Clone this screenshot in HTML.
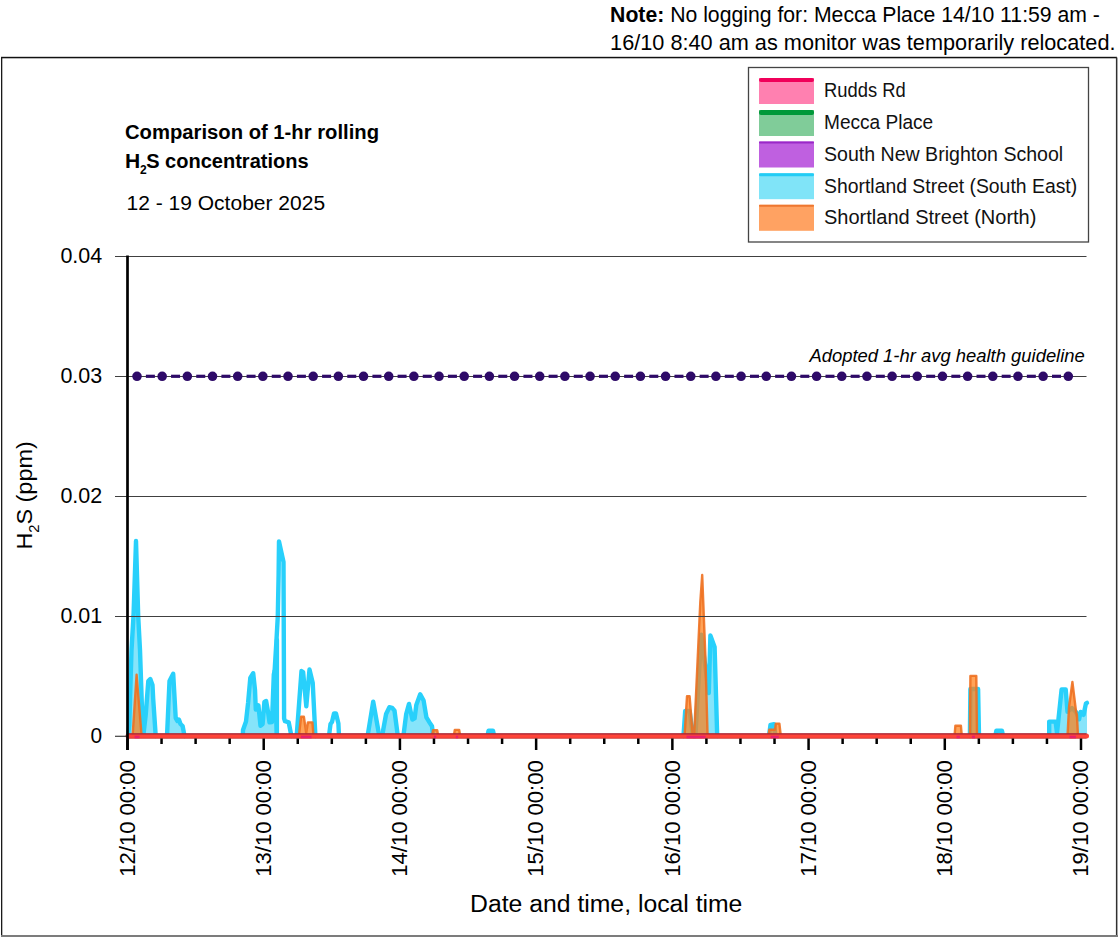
<!DOCTYPE html><html><head><meta charset="utf-8"><style>html,body{margin:0;padding:0;background:#fff;overflow:hidden}svg{display:block}</style></head><body><svg width="1118" height="937" viewBox="0 0 1118 937">
<rect x="0" y="0" width="1118" height="937" fill="#fff"/>
<rect x="1" y="56.8" width="1116" height="1.5" fill="#111"/>
<rect x="1" y="57" width="1.3" height="879" fill="#1a1a1a"/>
<rect x="1115.9" y="57" width="1.3" height="879" fill="#303030"/>
<rect x="1117" y="58" width="1" height="879" fill="#a8a8a8"/>
<rect x="1" y="935" width="1117" height="2" fill="#7c7c7c"/>
<text x="610.1" y="21.9" font-family="Liberation Sans, sans-serif" font-size="21.8" textLength="489.8" lengthAdjust="spacingAndGlyphs"><tspan font-weight="bold">Note:</tspan> No logging for: Mecca Place 14/10 11:59 am -</text>
<text x="610.1" y="50" font-family="Liberation Sans, sans-serif" font-size="21.8" textLength="505.4" lengthAdjust="spacingAndGlyphs">16/10 8:40 am as monitor was temporarily relocated.</text>
<rect x="748.5" y="67.5" width="340" height="174.5" fill="#fff" stroke="#444" stroke-width="1.3"/>
<rect x="759" y="78" width="55" height="26" fill="#ff80b0"/>
<rect x="759" y="78" width="55" height="4" rx="2.0" fill="#f0005a"/>
<text x="824" y="97" font-family="Liberation Sans, sans-serif" font-size="19.3" textLength="81.7" lengthAdjust="spacingAndGlyphs" fill="#111">Rudds Rd</text>
<rect x="759" y="110" width="55" height="26" fill="#80cc99"/>
<rect x="759" y="110" width="55" height="5" rx="2" fill="#00993a"/>
<text x="824" y="129" font-family="Liberation Sans, sans-serif" font-size="19.3" textLength="109.2" lengthAdjust="spacingAndGlyphs" fill="#111">Mecca Place</text>
<rect x="759" y="141.5" width="55" height="26" fill="#bf60e0"/>
<rect x="759" y="141.5" width="55" height="2" rx="1.0" fill="#9a28c8"/>
<text x="824" y="160.7" font-family="Liberation Sans, sans-serif" font-size="19.3" textLength="239.2" lengthAdjust="spacingAndGlyphs" fill="#111">South New Brighton School</text>
<rect x="759" y="173.2" width="55" height="26" fill="#80e4f8"/>
<rect x="759" y="173.2" width="55" height="3" rx="1.5" fill="#22ccf5"/>
<text x="824" y="192.7" font-family="Liberation Sans, sans-serif" font-size="19.3" textLength="253.2" lengthAdjust="spacingAndGlyphs" fill="#111">Shortland Street (South East)</text>
<rect x="759" y="204.8" width="55" height="26" fill="#ffa262"/>
<rect x="759" y="204.8" width="55" height="2" rx="1.0" fill="#ee7730"/>
<text x="824" y="224" font-family="Liberation Sans, sans-serif" font-size="19.3" textLength="212.4" lengthAdjust="spacingAndGlyphs" fill="#111">Shortland Street (North)</text>
<text x="125" y="139.3" font-family="Liberation Sans, sans-serif" font-size="21.05" font-weight="bold" textLength="254" lengthAdjust="spacingAndGlyphs">Comparison of 1-hr rolling</text>
<text x="125.1" y="167.7" font-family="Liberation Sans, sans-serif" font-size="21.05" font-weight="bold">H</text>
<text x="140" y="173.5" font-family="Liberation Sans, sans-serif" font-size="12" font-weight="bold">2</text>
<text x="146.2" y="167.7" font-family="Liberation Sans, sans-serif" font-size="21.05" font-weight="bold" textLength="162.4" lengthAdjust="spacingAndGlyphs">S concentrations</text>
<text x="126.5" y="210" font-family="Liberation Sans, sans-serif" font-size="20.9" textLength="198.6" lengthAdjust="spacingAndGlyphs">12 - 19 October 2025</text>
<text x="102.2" y="263.3" font-family="Liberation Sans, sans-serif" font-size="22.8" text-anchor="end" textLength="41.8" lengthAdjust="spacingAndGlyphs">0.04</text>
<text x="102.2" y="383.3" font-family="Liberation Sans, sans-serif" font-size="22.8" text-anchor="end" textLength="41.8" lengthAdjust="spacingAndGlyphs">0.03</text>
<text x="102.2" y="503.3" font-family="Liberation Sans, sans-serif" font-size="22.8" text-anchor="end" textLength="41.8" lengthAdjust="spacingAndGlyphs">0.02</text>
<text x="102.2" y="623.3" font-family="Liberation Sans, sans-serif" font-size="22.8" text-anchor="end" textLength="41.8" lengthAdjust="spacingAndGlyphs">0.01</text>
<text x="102.2" y="743.3" font-family="Liberation Sans, sans-serif" font-size="22.8" text-anchor="end" textLength="11.6" lengthAdjust="spacingAndGlyphs">0</text>
<line x1="115" y1="376.5" x2="1086.5" y2="376.5" stroke="#404040" stroke-width="1.2"/>
<text x="809.4" y="362" font-family="Liberation Sans, sans-serif" font-size="18" font-style="italic" textLength="275.4" lengthAdjust="spacingAndGlyphs">Adopted 1-hr avg health guideline</text>
<rect x="145.89" y="374.7" width="9" height="3.2" fill="#2e0a68"/>
<rect x="171.06" y="374.7" width="9" height="3.2" fill="#2e0a68"/>
<rect x="196.23" y="374.7" width="9" height="3.2" fill="#2e0a68"/>
<rect x="221.40" y="374.7" width="9" height="3.2" fill="#2e0a68"/>
<rect x="246.57" y="374.7" width="9" height="3.2" fill="#2e0a68"/>
<rect x="271.74" y="374.7" width="9" height="3.2" fill="#2e0a68"/>
<rect x="296.91" y="374.7" width="9" height="3.2" fill="#2e0a68"/>
<rect x="322.08" y="374.7" width="9" height="3.2" fill="#2e0a68"/>
<rect x="347.25" y="374.7" width="9" height="3.2" fill="#2e0a68"/>
<rect x="372.42" y="374.7" width="9" height="3.2" fill="#2e0a68"/>
<rect x="397.59" y="374.7" width="9" height="3.2" fill="#2e0a68"/>
<rect x="422.76" y="374.7" width="9" height="3.2" fill="#2e0a68"/>
<rect x="447.93" y="374.7" width="9" height="3.2" fill="#2e0a68"/>
<rect x="473.10" y="374.7" width="9" height="3.2" fill="#2e0a68"/>
<rect x="498.27" y="374.7" width="9" height="3.2" fill="#2e0a68"/>
<rect x="523.44" y="374.7" width="9" height="3.2" fill="#2e0a68"/>
<rect x="548.61" y="374.7" width="9" height="3.2" fill="#2e0a68"/>
<rect x="573.78" y="374.7" width="9" height="3.2" fill="#2e0a68"/>
<rect x="598.95" y="374.7" width="9" height="3.2" fill="#2e0a68"/>
<rect x="624.12" y="374.7" width="9" height="3.2" fill="#2e0a68"/>
<rect x="649.29" y="374.7" width="9" height="3.2" fill="#2e0a68"/>
<rect x="674.46" y="374.7" width="9" height="3.2" fill="#2e0a68"/>
<rect x="699.63" y="374.7" width="9" height="3.2" fill="#2e0a68"/>
<rect x="724.80" y="374.7" width="9" height="3.2" fill="#2e0a68"/>
<rect x="749.97" y="374.7" width="9" height="3.2" fill="#2e0a68"/>
<rect x="775.14" y="374.7" width="9" height="3.2" fill="#2e0a68"/>
<rect x="800.31" y="374.7" width="9" height="3.2" fill="#2e0a68"/>
<rect x="825.48" y="374.7" width="9" height="3.2" fill="#2e0a68"/>
<rect x="850.65" y="374.7" width="9" height="3.2" fill="#2e0a68"/>
<rect x="875.82" y="374.7" width="9" height="3.2" fill="#2e0a68"/>
<rect x="900.99" y="374.7" width="9" height="3.2" fill="#2e0a68"/>
<rect x="926.16" y="374.7" width="9" height="3.2" fill="#2e0a68"/>
<rect x="951.33" y="374.7" width="9" height="3.2" fill="#2e0a68"/>
<rect x="976.50" y="374.7" width="9" height="3.2" fill="#2e0a68"/>
<rect x="1001.67" y="374.7" width="9" height="3.2" fill="#2e0a68"/>
<rect x="1026.84" y="374.7" width="9" height="3.2" fill="#2e0a68"/>
<rect x="1052.01" y="374.7" width="9" height="3.2" fill="#2e0a68"/>
<circle cx="137.00" cy="376.3" r="4.8" fill="#2e0a68"/>
<circle cx="162.17" cy="376.3" r="4.8" fill="#2e0a68"/>
<circle cx="187.34" cy="376.3" r="4.8" fill="#2e0a68"/>
<circle cx="212.51" cy="376.3" r="4.8" fill="#2e0a68"/>
<circle cx="237.68" cy="376.3" r="4.8" fill="#2e0a68"/>
<circle cx="262.85" cy="376.3" r="4.8" fill="#2e0a68"/>
<circle cx="288.02" cy="376.3" r="4.8" fill="#2e0a68"/>
<circle cx="313.19" cy="376.3" r="4.8" fill="#2e0a68"/>
<circle cx="338.36" cy="376.3" r="4.8" fill="#2e0a68"/>
<circle cx="363.53" cy="376.3" r="4.8" fill="#2e0a68"/>
<circle cx="388.70" cy="376.3" r="4.8" fill="#2e0a68"/>
<circle cx="413.87" cy="376.3" r="4.8" fill="#2e0a68"/>
<circle cx="439.04" cy="376.3" r="4.8" fill="#2e0a68"/>
<circle cx="464.21" cy="376.3" r="4.8" fill="#2e0a68"/>
<circle cx="489.38" cy="376.3" r="4.8" fill="#2e0a68"/>
<circle cx="514.55" cy="376.3" r="4.8" fill="#2e0a68"/>
<circle cx="539.72" cy="376.3" r="4.8" fill="#2e0a68"/>
<circle cx="564.89" cy="376.3" r="4.8" fill="#2e0a68"/>
<circle cx="590.06" cy="376.3" r="4.8" fill="#2e0a68"/>
<circle cx="615.24" cy="376.3" r="4.8" fill="#2e0a68"/>
<circle cx="640.41" cy="376.3" r="4.8" fill="#2e0a68"/>
<circle cx="665.58" cy="376.3" r="4.8" fill="#2e0a68"/>
<circle cx="690.75" cy="376.3" r="4.8" fill="#2e0a68"/>
<circle cx="715.92" cy="376.3" r="4.8" fill="#2e0a68"/>
<circle cx="741.09" cy="376.3" r="4.8" fill="#2e0a68"/>
<circle cx="766.26" cy="376.3" r="4.8" fill="#2e0a68"/>
<circle cx="791.43" cy="376.3" r="4.8" fill="#2e0a68"/>
<circle cx="816.60" cy="376.3" r="4.8" fill="#2e0a68"/>
<circle cx="841.77" cy="376.3" r="4.8" fill="#2e0a68"/>
<circle cx="866.94" cy="376.3" r="4.8" fill="#2e0a68"/>
<circle cx="892.11" cy="376.3" r="4.8" fill="#2e0a68"/>
<circle cx="917.28" cy="376.3" r="4.8" fill="#2e0a68"/>
<circle cx="942.45" cy="376.3" r="4.8" fill="#2e0a68"/>
<circle cx="967.62" cy="376.3" r="4.8" fill="#2e0a68"/>
<circle cx="992.79" cy="376.3" r="4.8" fill="#2e0a68"/>
<circle cx="1017.96" cy="376.3" r="4.8" fill="#2e0a68"/>
<circle cx="1043.13" cy="376.3" r="4.8" fill="#2e0a68"/>
<circle cx="1068.30" cy="376.3" r="4.8" fill="#2e0a68"/>
<polygon points="128.0,736.0 129.3,725.0 131.5,650.0 133.5,616.0 136.0,541.0 138.2,616.0 140.0,650.0 142.7,730.0 143.5,734.0 145.7,715.0 148.3,681.0 150.3,679.0 152.5,685.0 153.2,699.0 155.7,736.0 155.7,736.0 128.0,736.0" fill="#86e4fa"/>
<polygon points="167.0,736.0 169.5,681.0 173.2,673.8 175.7,718.0 177.5,721.0 178.9,719.5 180.5,724.0 182.6,726.0 184.5,736.0 184.5,736.0 167.0,736.0" fill="#86e4fa"/>
<polygon points="242.8,736.0 243.0,730.0 246.0,721.5 248.1,702.7 250.3,678.0 253.2,673.2 255.0,690.0 255.8,709.6 258.4,705.3 260.5,725.8 262.6,724.0 264.4,701.9 266.1,701.0 268.2,713.0 269.5,722.4 272.0,722.0 273.8,674.5 274.6,671.1 276.9,736.0 276.9,736.0 242.8,736.0" fill="#86e4fa"/>
<polygon points="367.6,736.0 373.2,701.6 379.3,736.0 379.3,736.0 367.6,736.0" fill="#86e4fa"/>
<polygon points="382.1,736.0 386.1,714.0 389.4,707.2 392.2,707.8 394.5,710.6 397.8,736.0 397.8,736.0 382.1,736.0" fill="#86e4fa"/>
<polygon points="403.4,736.0 406.2,714.0 409.0,703.9 412.4,719.6 414.6,718.4 416.3,705.0 420.2,694.3 423.6,700.5 426.4,717.3 429.8,722.9 432.0,726.3 433.1,736.0 433.1,736.0 403.4,736.0" fill="#86e4fa"/>
<polygon points="487.5,736.0 488.5,730.8 493.0,730.8 494.1,736.0 494.1,736.0 487.5,736.0" fill="#86e4fa"/>
<polygon points="683.5,736.0 685.2,711.0 689.6,711.0 693.0,736.0 695.4,736.0 701.2,634.7 708.8,693.0 710.4,635.4 714.6,646.9 717.2,736.0 717.2,736.0 683.5,736.0" fill="#86e4fa"/>
<polygon points="769.0,736.0 770.5,724.8 774.0,724.2 775.5,736.0 775.5,736.0 769.0,736.0" fill="#86e4fa"/>
<polygon points="969.9,736.0 970.4,689.0 978.1,689.0 979.0,736.0 979.0,736.0 969.9,736.0" fill="#86e4fa"/>
<polygon points="995.4,736.0 996.3,730.8 1002.0,730.8 1003.0,736.0 1003.0,736.0 995.4,736.0" fill="#86e4fa"/>
<polygon points="1049.2,736.0 1049.2,721.6 1055.6,721.6 1057.0,733.0 1061.6,689.4 1065.7,689.4 1067.5,711.9 1072.0,708.0 1076.0,712.0 1079.1,719.3 1080.6,711.9 1083.6,714.8 1085.9,703.6 1087.0,702.9 1087.0,736.0 1049.2,736.0" fill="#86e4fa"/>
<polyline points="128.0,736.0 129.3,725.0 131.5,650.0 133.5,616.0 136.0,541.0 138.2,616.0 140.0,650.0 142.7,730.0 143.5,734.0 145.7,715.0 148.3,681.0 150.3,679.0 152.5,685.0 153.2,699.0 155.7,736.0" fill="none" stroke="#28d0fb" stroke-width="4.4" stroke-linejoin="round" stroke-linecap="round"/>
<polyline points="167.0,736.0 169.5,681.0 173.2,673.8 175.7,718.0 177.5,721.0 178.9,719.5 180.5,724.0 182.6,726.0 184.5,736.0" fill="none" stroke="#28d0fb" stroke-width="4.4" stroke-linejoin="round" stroke-linecap="round"/>
<polyline points="242.8,736.0 243.0,730.0 246.0,721.5 248.1,702.7 250.3,678.0 253.2,673.2 255.0,690.0 255.8,709.6 258.4,705.3 260.5,725.8 262.6,724.0 264.4,701.9 266.1,701.0 268.2,713.0 269.5,722.4 272.0,722.0 273.8,674.5 274.6,671.1 276.9,736.0" fill="none" stroke="#28d0fb" stroke-width="4.4" stroke-linejoin="round" stroke-linecap="round"/>
<polyline points="274.6,671.1 276.5,640.0 277.8,616.0 278.6,575.0 279.0,541.5 283.5,562.0 284.1,718.5 285.0,721.2 288.7,722.3 291.4,736.0" fill="none" stroke="#28d0fb" stroke-width="4.4" stroke-linejoin="round" stroke-linecap="round"/>
<polyline points="276.9,736.0 276.9,640.0" fill="none" stroke="#28d0fb" stroke-width="4.4" stroke-linejoin="round" stroke-linecap="round"/>
<polyline points="296.7,736.0 301.5,671.0 303.1,672.0 306.3,706.2 309.5,669.4 312.7,682.7 315.4,736.0" fill="none" stroke="#28d0fb" stroke-width="4.4" stroke-linejoin="round" stroke-linecap="round"/>
<polyline points="329.0,736.0 330.5,724.0 332.0,722.0 334.0,713.4 336.0,713.4 338.4,723.5 339.0,736.0" fill="none" stroke="#28d0fb" stroke-width="4.4" stroke-linejoin="round" stroke-linecap="round"/>
<polyline points="367.6,736.0 373.2,701.6 379.3,736.0" fill="none" stroke="#28d0fb" stroke-width="4.4" stroke-linejoin="round" stroke-linecap="round"/>
<polyline points="382.1,736.0 386.1,714.0 389.4,707.2 392.2,707.8 394.5,710.6 397.8,736.0" fill="none" stroke="#28d0fb" stroke-width="4.4" stroke-linejoin="round" stroke-linecap="round"/>
<polyline points="403.4,736.0 406.2,714.0 409.0,703.9 412.4,719.6 414.6,718.4 416.3,705.0 420.2,694.3 423.6,700.5 426.4,717.3 429.8,722.9 432.0,726.3 433.1,736.0" fill="none" stroke="#28d0fb" stroke-width="4.4" stroke-linejoin="round" stroke-linecap="round"/>
<polyline points="487.5,736.0 488.5,730.8 493.0,730.8 494.1,736.0" fill="none" stroke="#28d0fb" stroke-width="4.4" stroke-linejoin="round" stroke-linecap="round"/>
<polyline points="683.5,736.0 685.2,711.0 689.6,711.0 693.0,736.0 695.4,736.0 701.2,634.7 708.8,693.0 710.4,635.4 714.6,646.9 717.2,736.0" fill="none" stroke="#28d0fb" stroke-width="4.4" stroke-linejoin="round" stroke-linecap="round"/>
<polyline points="769.0,736.0 770.5,724.8 774.0,724.2 775.5,736.0" fill="none" stroke="#28d0fb" stroke-width="4.4" stroke-linejoin="round" stroke-linecap="round"/>
<polyline points="969.9,736.0 970.4,689.0 978.1,689.0 979.0,736.0" fill="none" stroke="#28d0fb" stroke-width="4.4" stroke-linejoin="round" stroke-linecap="round"/>
<polyline points="995.4,736.0 996.3,730.8 1002.0,730.8 1003.0,736.0" fill="none" stroke="#28d0fb" stroke-width="4.4" stroke-linejoin="round" stroke-linecap="round"/>
<polyline points="1049.2,736.0 1049.2,721.6 1055.6,721.6 1057.0,733.0 1061.6,689.4 1065.7,689.4 1067.5,711.9 1072.0,708.0 1076.0,712.0 1079.1,719.3 1080.6,711.9 1083.6,714.8 1085.9,703.6 1087.0,702.9" fill="none" stroke="#28d0fb" stroke-width="4.4" stroke-linejoin="round" stroke-linecap="round"/>
<polygon points="132.6,736.0 136.6,674.7 141.6,736.0" fill="#ff7f18" fill-opacity="0.72"/>
<polygon points="298.9,736.0 301.1,716.8 303.9,716.8 306.2,733.0 307.9,722.4 312.4,722.4 313.5,736.0" fill="#ff7f18" fill-opacity="0.72"/>
<polygon points="432.0,736.0 433.0,730.2 437.2,730.2 438.2,736.0" fill="#ff7f18" fill-opacity="0.72"/>
<polygon points="453.8,736.0 454.8,729.9 459.2,729.9 460.2,736.0" fill="#ff7f18" fill-opacity="0.72"/>
<polygon points="684.5,736.0 687.0,696.3 689.6,696.3 692.8,736.0 694.1,736.0 700.3,602.0 702.2,575.0 705.4,656.8 707.6,736.0" fill="#ff7f18" fill-opacity="0.72"/>
<polygon points="768.6,736.0 769.3,729.7 775.1,729.7 775.8,723.6 779.4,723.6 780.8,736.0" fill="#ff7f18" fill-opacity="0.72"/>
<polygon points="954.5,736.0 955.4,725.7 960.9,725.7 961.8,736.0" fill="#ff7f18" fill-opacity="0.72"/>
<polygon points="969.9,736.0 970.4,675.9 976.3,675.9 977.0,736.0" fill="#ff7f18" fill-opacity="0.72"/>
<polygon points="1067.5,736.0 1069.0,707.4 1072.4,682.0 1076.1,711.9 1076.9,714.8 1078.0,736.0" fill="#ff7f18" fill-opacity="0.72"/>
<polyline points="132.6,736.0 136.6,674.7 141.6,736.0" fill="none" stroke="#ee7020" stroke-opacity="0.9" stroke-width="2.4" stroke-linejoin="round" stroke-linecap="round"/>
<polyline points="298.9,736.0 301.1,716.8 303.9,716.8 306.2,733.0 307.9,722.4 312.4,722.4 313.5,736.0" fill="none" stroke="#ee7020" stroke-opacity="0.9" stroke-width="2.4" stroke-linejoin="round" stroke-linecap="round"/>
<polyline points="432.0,736.0 433.0,730.2 437.2,730.2 438.2,736.0" fill="none" stroke="#ee7020" stroke-opacity="0.9" stroke-width="2.4" stroke-linejoin="round" stroke-linecap="round"/>
<polyline points="453.8,736.0 454.8,729.9 459.2,729.9 460.2,736.0" fill="none" stroke="#ee7020" stroke-opacity="0.9" stroke-width="2.4" stroke-linejoin="round" stroke-linecap="round"/>
<polyline points="684.5,736.0 687.0,696.3 689.6,696.3 692.8,736.0 694.1,736.0 700.3,602.0 702.2,575.0 705.4,656.8 707.6,736.0" fill="none" stroke="#ee7020" stroke-opacity="0.9" stroke-width="2.4" stroke-linejoin="round" stroke-linecap="round"/>
<polyline points="768.6,736.0 769.3,729.7 775.1,729.7 775.8,723.6 779.4,723.6 780.8,736.0" fill="none" stroke="#ee7020" stroke-opacity="0.9" stroke-width="2.4" stroke-linejoin="round" stroke-linecap="round"/>
<polyline points="954.5,736.0 955.4,725.7 960.9,725.7 961.8,736.0" fill="none" stroke="#ee7020" stroke-opacity="0.9" stroke-width="2.4" stroke-linejoin="round" stroke-linecap="round"/>
<polyline points="969.9,736.0 970.4,675.9 976.3,675.9 977.0,736.0" fill="none" stroke="#ee7020" stroke-opacity="0.9" stroke-width="2.4" stroke-linejoin="round" stroke-linecap="round"/>
<polyline points="1067.5,736.0 1069.0,707.4 1072.4,682.0 1076.1,711.9 1076.9,714.8 1078.0,736.0" fill="none" stroke="#ee7020" stroke-opacity="0.9" stroke-width="2.4" stroke-linejoin="round" stroke-linecap="round"/>
<line x1="128" y1="736" x2="1086.5" y2="736" stroke="#ff4438" stroke-width="5" stroke-linecap="round"/>
<line x1="128" y1="733.9" x2="1086.5" y2="733.9" stroke="#9e2436" stroke-width="1.1" opacity="0.95"/>
<line x1="128" y1="738.3" x2="1086.5" y2="738.3" stroke="#b83232" stroke-width="0.8" opacity="0.75"/>
<line x1="115" y1="256.5" x2="1086.5" y2="256.5" stroke="#404040" stroke-width="1.2"/>
<line x1="115" y1="496.5" x2="1086.5" y2="496.5" stroke="#404040" stroke-width="1.2"/>
<line x1="115" y1="616.5" x2="1086.5" y2="616.5" stroke="#404040" stroke-width="1.2"/>
<line x1="115" y1="736.3" x2="128" y2="736.3" stroke="#404040" stroke-width="1.2"/>
<line x1="134.6" y1="737" x2="139.6" y2="737" stroke="#e8206a" stroke-width="2.6"/>
<line x1="300.9" y1="737" x2="311.5" y2="737" stroke="#e8206a" stroke-width="2.6"/>
<line x1="434.0" y1="737" x2="436.2" y2="737" stroke="#e8206a" stroke-width="2.6"/>
<line x1="455.8" y1="737" x2="458.2" y2="737" stroke="#e8206a" stroke-width="2.6"/>
<line x1="686.5" y1="737" x2="705.6" y2="737" stroke="#e8206a" stroke-width="2.6"/>
<line x1="770.6" y1="737" x2="778.8" y2="737" stroke="#e8206a" stroke-width="2.6"/>
<line x1="956.5" y1="737" x2="959.8" y2="737" stroke="#e8206a" stroke-width="2.6"/>
<line x1="971.9" y1="737" x2="975.0" y2="737" stroke="#e8206a" stroke-width="2.6"/>
<line x1="1069.5" y1="737" x2="1076.0" y2="737" stroke="#e8206a" stroke-width="2.6"/>
<line x1="127.5" y1="255.5" x2="127.5" y2="750" stroke="#000" stroke-width="2.7"/>
<line x1="127.50" y1="738.5" x2="127.50" y2="750" stroke="#000" stroke-width="2.5"/>
<line x1="161.55" y1="738.5" x2="161.55" y2="744" stroke="#000" stroke-width="2.5"/>
<line x1="195.61" y1="738.5" x2="195.61" y2="744" stroke="#000" stroke-width="2.5"/>
<line x1="229.66" y1="738.5" x2="229.66" y2="744" stroke="#000" stroke-width="2.5"/>
<line x1="263.71" y1="738.5" x2="263.71" y2="750" stroke="#000" stroke-width="2.5"/>
<line x1="297.77" y1="738.5" x2="297.77" y2="744" stroke="#000" stroke-width="2.5"/>
<line x1="331.82" y1="738.5" x2="331.82" y2="744" stroke="#000" stroke-width="2.5"/>
<line x1="365.88" y1="738.5" x2="365.88" y2="744" stroke="#000" stroke-width="2.5"/>
<line x1="399.93" y1="738.5" x2="399.93" y2="750" stroke="#000" stroke-width="2.5"/>
<line x1="433.98" y1="738.5" x2="433.98" y2="744" stroke="#000" stroke-width="2.5"/>
<line x1="468.04" y1="738.5" x2="468.04" y2="744" stroke="#000" stroke-width="2.5"/>
<line x1="502.09" y1="738.5" x2="502.09" y2="744" stroke="#000" stroke-width="2.5"/>
<line x1="536.14" y1="738.5" x2="536.14" y2="750" stroke="#000" stroke-width="2.5"/>
<line x1="570.20" y1="738.5" x2="570.20" y2="744" stroke="#000" stroke-width="2.5"/>
<line x1="604.25" y1="738.5" x2="604.25" y2="744" stroke="#000" stroke-width="2.5"/>
<line x1="638.30" y1="738.5" x2="638.30" y2="744" stroke="#000" stroke-width="2.5"/>
<line x1="672.36" y1="738.5" x2="672.36" y2="750" stroke="#000" stroke-width="2.5"/>
<line x1="706.41" y1="738.5" x2="706.41" y2="744" stroke="#000" stroke-width="2.5"/>
<line x1="740.46" y1="738.5" x2="740.46" y2="744" stroke="#000" stroke-width="2.5"/>
<line x1="774.52" y1="738.5" x2="774.52" y2="744" stroke="#000" stroke-width="2.5"/>
<line x1="808.57" y1="738.5" x2="808.57" y2="750" stroke="#000" stroke-width="2.5"/>
<line x1="842.62" y1="738.5" x2="842.62" y2="744" stroke="#000" stroke-width="2.5"/>
<line x1="876.68" y1="738.5" x2="876.68" y2="744" stroke="#000" stroke-width="2.5"/>
<line x1="910.73" y1="738.5" x2="910.73" y2="744" stroke="#000" stroke-width="2.5"/>
<line x1="944.79" y1="738.5" x2="944.79" y2="750" stroke="#000" stroke-width="2.5"/>
<line x1="978.84" y1="738.5" x2="978.84" y2="744" stroke="#000" stroke-width="2.5"/>
<line x1="1012.89" y1="738.5" x2="1012.89" y2="744" stroke="#000" stroke-width="2.5"/>
<line x1="1046.95" y1="738.5" x2="1046.95" y2="744" stroke="#000" stroke-width="2.5"/>
<line x1="1081.00" y1="738.5" x2="1081.00" y2="750" stroke="#000" stroke-width="2.5"/>
<text transform="translate(134.80,876.8) rotate(-90)" font-family="Liberation Sans, sans-serif" font-size="21.6" textLength="116.6" lengthAdjust="spacingAndGlyphs">12/10 00:00</text>
<text transform="translate(271.01,876.8) rotate(-90)" font-family="Liberation Sans, sans-serif" font-size="21.6" textLength="116.6" lengthAdjust="spacingAndGlyphs">13/10 00:00</text>
<text transform="translate(407.23,876.8) rotate(-90)" font-family="Liberation Sans, sans-serif" font-size="21.6" textLength="116.6" lengthAdjust="spacingAndGlyphs">14/10 00:00</text>
<text transform="translate(543.44,876.8) rotate(-90)" font-family="Liberation Sans, sans-serif" font-size="21.6" textLength="116.6" lengthAdjust="spacingAndGlyphs">15/10 00:00</text>
<text transform="translate(679.66,876.8) rotate(-90)" font-family="Liberation Sans, sans-serif" font-size="21.6" textLength="116.6" lengthAdjust="spacingAndGlyphs">16/10 00:00</text>
<text transform="translate(815.87,876.8) rotate(-90)" font-family="Liberation Sans, sans-serif" font-size="21.6" textLength="116.6" lengthAdjust="spacingAndGlyphs">17/10 00:00</text>
<text transform="translate(952.09,876.8) rotate(-90)" font-family="Liberation Sans, sans-serif" font-size="21.6" textLength="116.6" lengthAdjust="spacingAndGlyphs">18/10 00:00</text>
<text transform="translate(1088.30,876.8) rotate(-90)" font-family="Liberation Sans, sans-serif" font-size="21.6" textLength="116.6" lengthAdjust="spacingAndGlyphs">19/10 00:00</text>
<text x="470.1" y="912.2" font-family="Liberation Sans, sans-serif" font-size="23.3" textLength="272.3" lengthAdjust="spacingAndGlyphs">Date and time, local time</text>
<g transform="translate(32.3,549.6) rotate(-90)"><text x="0" y="0" font-family="Liberation Sans, sans-serif" font-size="22.4" textLength="108.3" lengthAdjust="spacingAndGlyphs">H<tspan font-size="14" dy="6.5">2</tspan><tspan dy="-6.5">S (ppm)</tspan></text></g>
</svg></body></html>
